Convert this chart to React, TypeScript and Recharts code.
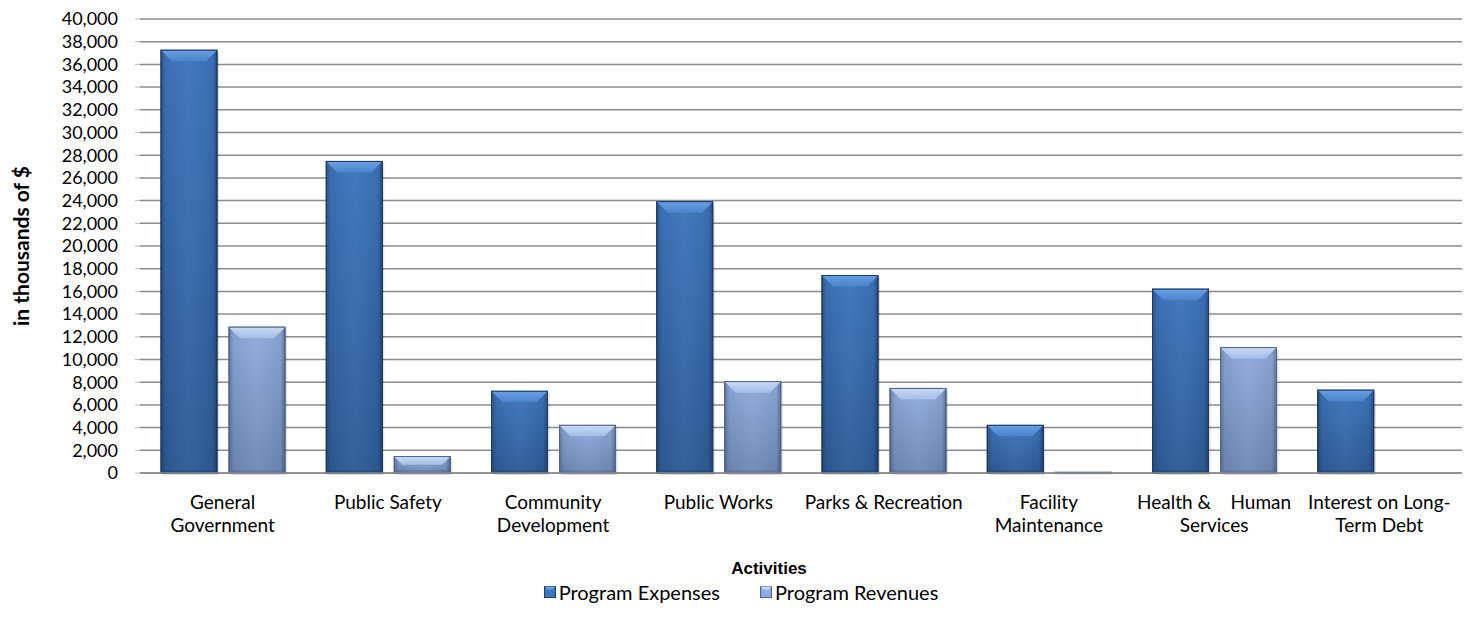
import React from 'react';
import { BarChart, Bar, XAxis, YAxis, CartesianGrid, Legend, Label } from 'recharts';

const categories = [
  'General Government',
  'Public Safety',
  'Community Development',
  'Public Works',
  'Parks & Recreation',
  'Facility Maintenance',
  'Health & Human Services',
  'Interest on Long-Term Debt',
];
const categoryLines: string[][] = [
  ['General', 'Government'],
  ['Public Safety'],
  ['Community', 'Development'],
  ['Public Works'],
  ['Parks & Recreation'],
  ['Facility', 'Maintenance'],
  ['Health &    Human', 'Services'],
  ['Interest on Long-', 'Term Debt'],
];
const programExpenses = [37250, 27450, 7200, 23900, 17400, 4200, 16200, 7300];
const programRevenues = [12850, 1450, 4200, 8050, 7450, 60, 11050, 0];
const yTicks = [0, 2000, 4000, 6000, 8000, 10000, 12000, 14000, 16000, 18000, 20000, 22000, 24000, 26000, 28000, 30000, 32000, 34000, 36000, 38000, 40000];

const data = categories.map((c, i) => ({
  name: c,
  idx: i,
  expenses: programExpenses[i],
  revenues: programRevenues[i],
}));

const FONT = 'Lato, "Open Sans", sans-serif';

const palettes: Record<string, { top: string; bottom: string; edge: string; bevel: string; bevel2: string }> = {
  exp: { top: '#3d74bb', bottom: '#2d5b95', edge: '#1d3b66', bevel: '#6a9fe2', bevel2: '#4a83cc' },
  rev: { top: '#90abdb', bottom: '#6f88b5', edge: '#4d6690', bevel: '#c9daf5', bevel2: '#a4bde6' },
};

const makeShape = (key: string) => (props: any) => {
  const { x, y, width, height } = props;
  if (!height || height <= 0) return null;
  const p = palettes[key];
  const b = Math.min(11, height / 2, width / 4);
  return (
    <g>
      <rect x={x + 2} y={y + 2} width={width} height={height} fill="#000" opacity={0.12} />
      <rect x={x} y={y} width={width} height={height} fill={`url(#v-${key})`} stroke={p.edge} strokeWidth={1} />
      <rect x={x} y={y} width={width} height={height} fill="url(#hshade)" />
      {height > 3 && (
        <polygon points={`${x},${y} ${x + width},${y} ${x + width - b},${y + b} ${x + b},${y + b}`} fill={`url(#bev-${key})`} />
      )}
      {height > 3 && (
        <polygon points={`${x},${y + height} ${x + width},${y + height} ${x + width - 3},${y + height - 3} ${x + 3},${y + height - 3}`} fill={p.edge} opacity={0.35} />
      )}
      <rect x={x} y={y} width={width} height={height} fill="none" stroke={p.edge} strokeWidth={1} />
    </g>
  );
};

const ExpShape = makeShape('exp');
const RevShape = makeShape('rev');

const XTick = (props: any) => {
  const { x, y, payload } = props;
  const idx = categories.indexOf(payload.value);
  const lines = categoryLines[idx] || [payload.value];
  return (
    <text x={x} y={y} textAnchor="middle" fontFamily={FONT} fontSize={19} fill="#000" style={{ whiteSpace: 'pre' }}>
      {lines.map((l, i) => (
        <tspan key={i} x={x} dy={i === 0 ? 28 : 23}>
          {l}
        </tspan>
      ))}
    </text>
  );
};

const LegendIcon = ({ k }: { k: string }) => {
  const p = palettes[k];
  return (
    <svg width={12} height={12} style={{ marginRight: 3, verticalAlign: 'middle' }}>
      <rect x={0.5} y={0.5} width={11} height={11} fill={p.top} stroke={p.edge} />
      <polygon points="0.5,0.5 11.5,0.5 8.5,3.5 3.5,3.5" fill={p.bevel} />
    </svg>
  );
};

const LegendContent = () => (
  <div
    style={{
      display: 'flex',
      justifyContent: 'center',
      alignItems: 'center',
      fontFamily: FONT,
      fontSize: 20,
      color: '#000',
      paddingTop: 7,
      paddingRight: 20,
    }}
  >
    <span style={{ display: 'flex', alignItems: 'center', marginRight: 40 }}>
      <LegendIcon k="exp" />
      Program Expenses
    </span>
    <span style={{ display: 'flex', alignItems: 'center' }}>
      <LegendIcon k="rev" />
      Program Revenues
    </span>
  </div>
);

export default function App() {
  return (
    <div style={{ width: 1476, height: 633, background: '#fff' }}>
      <style>{`body{margin:0;}`}</style>
      <BarChart
        width={1476}
        height={633}
        data={data}
        margin={{ top: 19, right: 14, bottom: 0, left: 40 }}
        barSize={56}
        barGap={12}
      >
        <defs>
          {Object.keys(palettes).map((k) => (
            <linearGradient key={k} id={`v-${k}`} x1="0" y1="0" x2="0" y2="1">
              <stop offset="0%" stopColor={palettes[k].top} />
              <stop offset="100%" stopColor={palettes[k].bottom} />
            </linearGradient>
          ))}
          {Object.keys(palettes).map((k) => (
            <linearGradient key={'b' + k} id={`bev-${k}`} x1="0" y1="0" x2="0" y2="1">
              <stop offset="0%" stopColor={palettes[k].bevel} />
              <stop offset="100%" stopColor={palettes[k].bevel2} />
            </linearGradient>
          ))}
          <linearGradient id="hshade" x1="0" y1="0" x2="1" y2="0">
            <stop offset="0%" stopColor="#000" stopOpacity={0.25} />
            <stop offset="8%" stopColor="#000" stopOpacity={0.05} />
            <stop offset="50%" stopColor="#fff" stopOpacity={0.04} />
            <stop offset="92%" stopColor="#000" stopOpacity={0.05} />
            <stop offset="100%" stopColor="#000" stopOpacity={0.3} />
          </linearGradient>
        </defs>
        <CartesianGrid vertical={false} stroke="#8c8c8c" strokeWidth={1.5} />
        <XAxis
          dataKey="name"
          interval={0}
          tick={<XTick />}
          tickLine={false}
          axisLine={{ stroke: '#8c8c8c', strokeWidth: 1.5 }}
          height={100}
        >
          <Label
            value="Activities"
            position="insideBottom"
            offset={-1}
            dx={-32}
            style={{ fontFamily: '"Liberation Sans", Arial, sans-serif', fontWeight: 'bold', fontSize: 17, fill: '#000' }}
          />
        </XAxis>
        <YAxis
          domain={[0, 40000]}
          ticks={yTicks}
          interval={0}
          width={100}
          axisLine={false}
          tickLine={{ stroke: '#bdbdbd' }}
          tickSize={5}
          tickMargin={17}
          tickFormatter={(v: number) => v.toLocaleString('en-US')}
          tick={{ fontFamily: FONT, fontSize: 18, fill: '#000' }}
        >
          <Label
            value="in thousands of $"
            angle={-90}
            position="insideLeft"
            offset={-18}
            style={{ textAnchor: 'middle', fontFamily: FONT, fontWeight: 'bold', fontSize: 21, fill: '#000' }}
          />
        </YAxis>
        <Legend verticalAlign="bottom" height={60} wrapperStyle={{ height: 60 }} content={<LegendContent />} />
        <Bar dataKey="expenses" name="Program Expenses" fill={palettes.exp.top} shape={<ExpShape />} isAnimationActive={false} />
        <Bar dataKey="revenues" name="Program Revenues" fill={palettes.rev.top} shape={<RevShape />} isAnimationActive={false} />
      </BarChart>
    </div>
  );
}
